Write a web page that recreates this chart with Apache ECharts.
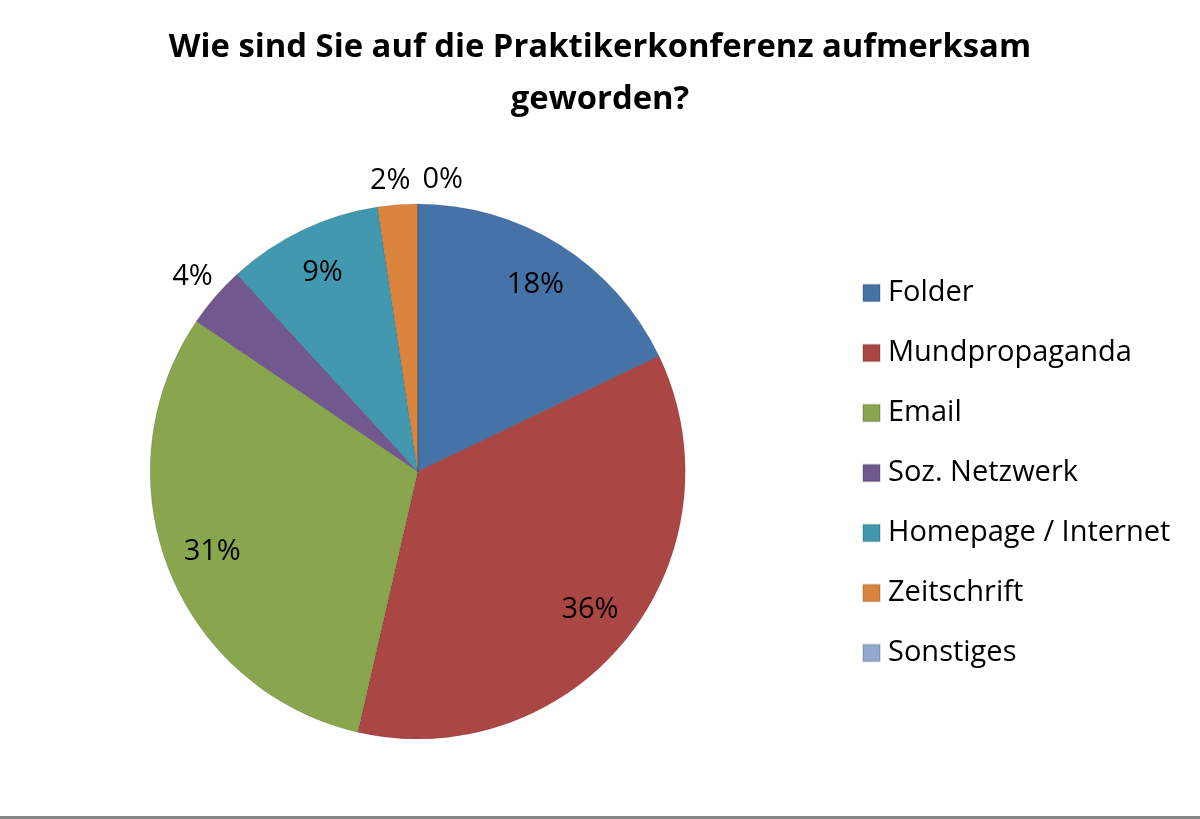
<!DOCTYPE html>
<html>
<head>
<meta charset="utf-8">
<script src="https://cdn.jsdelivr.net/npm/echarts@6/dist/echarts.min.js"></script>
<style>
  html, body { margin: 0; padding: 0; background: #ffffff; }
  #chart { width: 1200px; height: 819px; }
</style>
</head>
<body>
<div id="chart"></div>
<script>
// ---- data ----
const titleText = 'Wie sind Sie auf die Praktikerkonferenz aufmerksam\ngeworden?';
const categories = ['Folder', 'Mundpropaganda', 'Email', 'Soz. Netzwerk', 'Homepage / Internet', 'Zeitschrift', 'Sonstiges'];
const shares = [17.9, 35.7, 30.9, 3.7, 9.4, 2.4, 0];
const colors = ['#4572A7', '#AA4643', '#89A54E', '#71588F', '#4198AF', '#DB843D', '#93A9CF'];

// ---- styling ----
const FONT = '"Open Sans", Lato, sans-serif';
const CX = 417.7, CY = 471.5, R = 267.5;
const insideMin = 5;              // slices at least this big get the label inside
const labelNudge = {              // padding tweaks for crowded outside labels
  'Zeitschrift': [12, 10, 0, 0],
  'Sonstiges': [12, 0, 0, 50]
};

const pctLabel = p => '{v|' + Math.round(p.percent) + '%}';
const baseData = categories.map((name, i) => ({ name: name, value: shares[i] }));

const chart = echarts.init(document.getElementById('chart'), null, { renderer: 'canvas' });

const labelText = { fontFamily: FONT, fontSize: 29, color: '#000000' };

const common = {
  type: 'pie',
  center: [CX, CY],
  startAngle: 90,
  clockwise: true,
  avoidLabelOverlap: false,
  animation: false,
  emphasis: { disabled: true },
  labelLine: { show: false }
};

chart.setOption({
  backgroundColor: '#ffffff',
  color: colors,
  title: {
    text: titleText,
    left: 'center',
    top: 17,
    textStyle: {
      fontFamily: FONT,
      fontWeight: 'bold',
      fontSize: 32.8,
      lineHeight: 52,
      color: '#000000'
    }
  },
  legend: {
    orient: 'vertical',
    left: 862,
    top: 278,
    padding: 0,
    itemWidth: 17,
    itemHeight: 17,
    itemGap: 30,
    icon: 'rect',
    selectedMode: false,
    data: categories,
    textStyle: {
      fontFamily: FONT,
      fontSize: 29,
      lineHeight: 30,
      color: '#000000',
      padding: [0, 0, 0, 3]
    }
  },
  graphic: [{
    type: 'rect',
    left: 0,
    top: 816,
    shape: { width: 1200, height: 3 },
    style: { fill: '#858585' },
    silent: true
  }],
  series: [
    Object.assign({}, common, {
      name: 'main',
      radius: R,
      data: baseData,
      label: { show: false },
      itemStyle: { borderColor: 'rgba(0,0,0,0.12)', borderWidth: 1 }
    }),
    Object.assign({}, common, {
      name: 'insideLabels',
      radius: [168, R],
      silent: true,
      legendHoverLink: false,
      itemStyle: { color: 'rgba(0,0,0,0)', borderWidth: 0 },
      data: baseData.map(d => ({ name: d.name, value: d.value, label: { show: d.value >= insideMin } })),
      label: Object.assign({ position: 'inside', formatter: pctLabel, rich: { v: labelText } }, labelText)
    }),
    Object.assign({}, common, {
      name: 'outsideLabels',
      radius: [R, 322],
      silent: true,
      legendHoverLink: false,
      itemStyle: { color: 'rgba(0,0,0,0)', borderWidth: 0 },
      data: baseData.map(d => ({
        name: d.name,
        value: d.value,
        label: Object.assign({ show: d.value < insideMin }, labelNudge[d.name] ? { padding: labelNudge[d.name] } : {})
      })),
      label: Object.assign({ position: 'inside', formatter: pctLabel, rich: { v: labelText } }, labelText)
    })
  ]
});
</script>
</body>
</html>
